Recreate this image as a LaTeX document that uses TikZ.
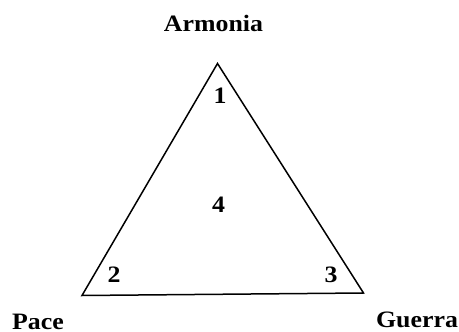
\documentclass[tikz,border=0pt]{standalone}
\usepackage{fontspec}
\setmainfont{Liberation Serif}
\newfontfamily\lblfont[FakeStretch=1.1]{Liberation Serif}
\begin{document}
\begin{tikzpicture}[x=1pt,y=-1pt,
  lbl/.style={font=\lblfont\fontsize{23.5}{26}\selectfont\bfseries, inner sep=0pt, anchor=base},
  num/.style={font=\lblfont\fontsize{23.5}{26}\selectfont\bfseries, inner sep=0pt, anchor=base},
  edge/.style={line width=1.5pt, line join=miter}]
\useasboundingbox (0,0) rectangle (459,332);
\coordinate (A) at (217.5,63.5);
\coordinate (P) at (82,295.5);
\coordinate (G) at (363.5,293);
\draw[edge] (A) -- (P) -- (G) -- cycle;
\node[lbl] (arm) at (213.5,31) {Armonia};
\node[lbl] (pace) at (38,329) {Pace};
\node[lbl] (gue) at (417,327.5) {Guerra};
\node[num] (n1) at (220,103) {1};
\node[num] (n4) at (218.5,212) {4};
\node[num] (n2) at (114,282) {2};
\node[num] (n3) at (331,282) {3};
\end{tikzpicture}
\end{document}
